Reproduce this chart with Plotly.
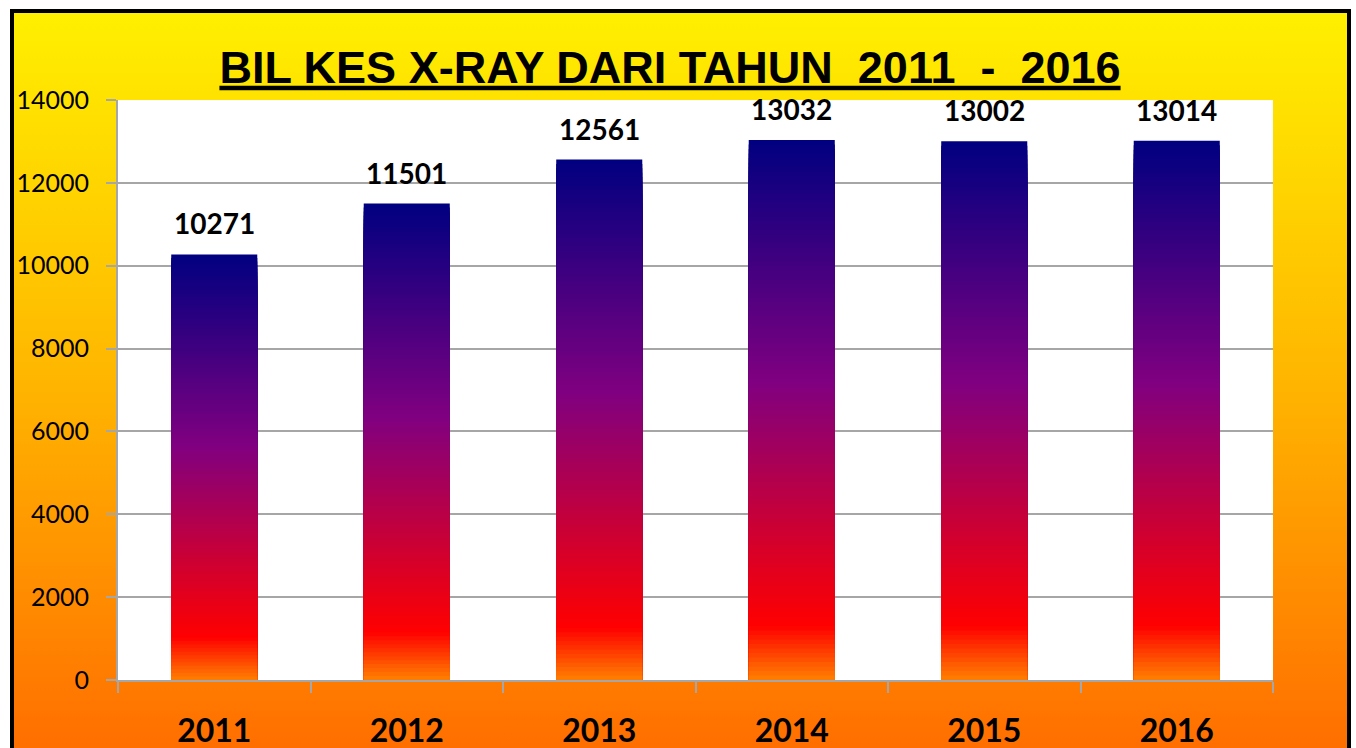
import base64
import plotly.graph_objects as go

# ---- data ----
years = ["2011", "2012", "2013", "2014", "2015", "2016"]
cases = [10271, 11501, 12561, 13032, 13002, 13014]
y_ticks = [0, 2000, 4000, 6000, 8000, 10000, 12000, 14000]
title_text = "BIL KES X-RAY DARI TAHUN\u00a0\u00a02011\u00a0\u00a0-\u00a0\u00a02016"

# ---- styling ----
bar_stops = [(0.0, (0, 0, 128)), (0.45, (128, 0, 128)), (0.9, (255, 0, 0)), (1.0, (255, 128, 0))]
N_SLICES = 120

W, H = 1356, 748
PL, PR, PT, PB = 118, 1273, 100, 680  # plot area in pixels


def interp(t):
    for (p0, c0), (p1, c1) in zip(bar_stops[:-1], bar_stops[1:]):
        if p0 <= t <= p1:
            u = (t - p0) / (p1 - p0) if p1 > p0 else 0
            c = [round(a + (b - a) * u) for a, b in zip(c0, c1)]
            return "rgb(%d,%d,%d)" % tuple(c)
    return "rgb(%d,%d,%d)" % bar_stops[-1][1]


fig = go.Figure()
# gradient bars: overlaid bars from tallest (top colour) to shortest (bottom colour)
for k in range(N_SLICES):
    frac = 1 - k / N_SLICES
    fig.add_trace(go.Bar(
        x=years, y=[v * frac for v in cases],
        marker=dict(color=interp((k + 0.5) / N_SLICES), line=dict(width=0)),
        hoverinfo="skip", showlegend=False,
    ))

annotations = [
    dict(x=i, y=v, text=str(v), showarrow=False, yanchor="middle", yshift=31,
         font=dict(family="Lato, Arial, sans-serif", size=28, color="black", weight="bold"))
    for i, v in enumerate(cases)
]

# background gradient image
svg = ('<svg xmlns="http://www.w3.org/2000/svg" width="100" height="100" viewBox="0 0 100 100" '
       'preserveAspectRatio="none"><defs><linearGradient id="g" x1="0" y1="0" x2="0" y2="1">'
       '<stop offset="0" stop-color="#FFF000"/><stop offset="0.5" stop-color="#FFB400"/>'
       '<stop offset="1" stop-color="#FF6A00"/></linearGradient></defs>'
       '<rect x="0" y="0" width="100" height="100" fill="url(#g)"/></svg>')
src = "data:image/svg+xml;base64," + base64.b64encode(svg.encode()).decode()


def px_x(px):
    return (px - PL) / (PR - PL)


def px_y(py):
    return (PB - py) / (PB - PT)


fx0, fx1, fy0, fy1 = px_x(12), px_x(1349), px_y(770), px_y(11)

fig.update_layout(
    width=W, height=H,
    margin=dict(l=PL, r=W - PR, t=PT, b=H - PB, pad=0, autoexpand=False),
    paper_bgcolor="white", plot_bgcolor="white",
    barmode="overlay", bargap=0.553,
    title=dict(text=title_text, x=670 / W, xanchor="center", xref="container",
               y=1 - 67 / H, yanchor="middle", yref="container",
               font=dict(family="Liberation Sans Narrow, Arial Narrow, Arial, sans-serif",
                         size=45, color="black", weight="bold", lineposition="under")),
    images=[dict(source=src, xref="paper", yref="paper", x=fx0, y=fy1,
                 sizex=fx1 - fx0, sizey=fy1 - fy0, xanchor="left", yanchor="top",
                 sizing="stretch", layer="below")],
    shapes=[
        dict(type="rect", xref="paper", yref="paper", x0=0, x1=1, y0=0, y1=1,
             fillcolor="white", line=dict(width=0), layer="below"),
        dict(type="rect", xref="paper", yref="paper", x0=fx0, x1=fx1, y0=fy0, y1=fy1,
             fillcolor="rgba(0,0,0,0)", line=dict(color="black", width=4), layer="below"),
    ],
    annotations=annotations,
    xaxis=dict(type="category", categoryorder="array", categoryarray=years,
               range=[-0.5, len(years) - 0.5],
               showline=True, linecolor="#A6A6A6", linewidth=2, ticks="outside",
               tickson="boundaries", ticklen=11, tickcolor="#A6A6A6", tickwidth=1.5,
               showgrid=False, ticklabelstandoff=22, tickangle=0, automargin=False,
               tickfont=dict(family="Lato, Arial, sans-serif", size=32, color="black", weight="bold")),
    yaxis=dict(range=[0, 14000], tickvals=y_ticks, ticktext=[str(t) for t in y_ticks],
               showline=True, linecolor="#A6A6A6", linewidth=2, ticks="outside",
               ticklen=10, tickcolor="#A6A6A6", tickwidth=1.5, automargin=False,
               showgrid=True, gridcolor="#A6A6A6", gridwidth=1.5, zeroline=False,
               ticklabelstandoff=12,
               tickfont=dict(family="Lato, Arial, sans-serif", size=25, color="black")),
)

fig.write_html("out.html", config={"displayModeBar": False},
               post_script="document.body.style.margin='0';")
